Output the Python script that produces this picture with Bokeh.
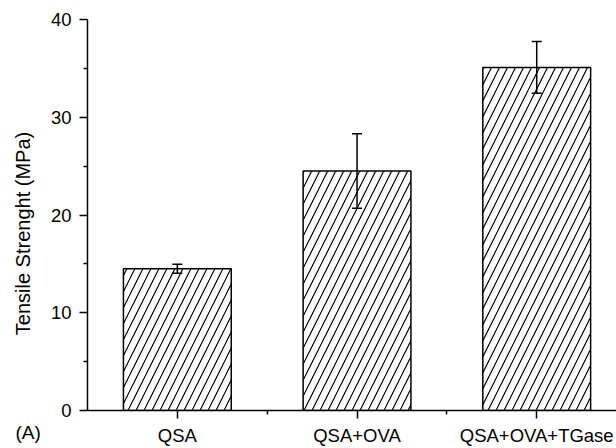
from bokeh.plotting import figure
from bokeh.models import (ColumnDataSource, FixedTicker, Whisker, TeeHead, Label, Range1d)
from bokeh.embed import file_html
from bokeh.resources import INLINE
import math

# ---- data ----
categories = ["QSA", "QSA+OVA", "QSA+OVA+TGase"]
positions = [1, 2, 3]
tensile = [14.5, 24.5, 35.1]
errors = [0.45, 3.8, 2.65]
y_ticks = [0, 10, 20, 30, 40]
y_minor = [5, 15, 25, 35]
x_minor = [1.5, 2.5]
y_label = "Tensile Strenght (MPa)"
panel_tag = "(A)"

FONT = "Liberation Sans"

src = ColumnDataSource(dict(
    x=positions,
    top=tensile,
    upper=[t + e for t, e in zip(tensile, errors)],
    lower=[t - e for t, e in zip(tensile, errors)],
))

p = figure(width=616, height=448, output_backend="svg", toolbar_location=None,
           x_range=Range1d(0.5, 3.444), y_range=Range1d(0, 40),
           min_border_left=86, min_border_top=19, min_border_right=0,
           min_border_bottom=30)
p.outline_line_color = None
p.xgrid.visible = False
p.ygrid.visible = False
p.background_fill_color = "white"
p.border_fill_color = "white"

p.vbar(x="x", top="top", width=0.6, source=src, fill_color="white",
       line_color="black", line_width=1.5, hatch_pattern="/",
       hatch_color="black", hatch_scale=16, hatch_weight=1.2)

w = Whisker(base="x", upper="upper", lower="lower", source=src, level="overlay",
            line_color="black", line_width=1.5,
            upper_head=TeeHead(size=10, line_width=1.5, line_color="black"),
            lower_head=TeeHead(size=10, line_width=1.5, line_color="black"))
p.add_layout(w)

# axes
p.xaxis.ticker = FixedTicker(ticks=positions, minor_ticks=x_minor)
p.xaxis.major_label_overrides = {pos: c for pos, c in zip(positions, categories)}
p.yaxis.ticker = FixedTicker(ticks=y_ticks, minor_ticks=y_minor)

for ax in (p.xaxis[0], p.yaxis[0]):
    ax.axis_line_color = "black"
    ax.axis_line_width = 1.5
    ax.major_tick_line_color = "black"
    ax.major_tick_line_width = 1.5
    ax.minor_tick_line_color = "black"
    ax.minor_tick_line_width = 1.5
    ax.major_tick_in = 0
    ax.major_tick_out = 8
    ax.minor_tick_in = 0
    ax.minor_tick_out = 4
    ax.major_label_text_font = FONT
    ax.major_label_text_font_size = "18.5px"
    ax.major_label_text_color = "black"

p.xaxis.major_label_standoff = 6
p.yaxis.major_label_standoff = 8

p.add_layout(Label(x=22, y=233, x_units="canvas", y_units="canvas",
                   text=y_label, angle=math.pi / 2,
                   text_align="center", text_baseline="middle",
                   text_font=FONT, text_font_size="20px", text_color="black"), "left")
p.add_layout(Label(x=15, y=432, x_units="canvas", y_units="canvas",
                   text=panel_tag,
                   text_align="left", text_baseline="alphabetic",
                   text_font=FONT, text_font_size="19px", text_color="black"), "left")

open("out.html", "w").write(file_html(p, INLINE))
